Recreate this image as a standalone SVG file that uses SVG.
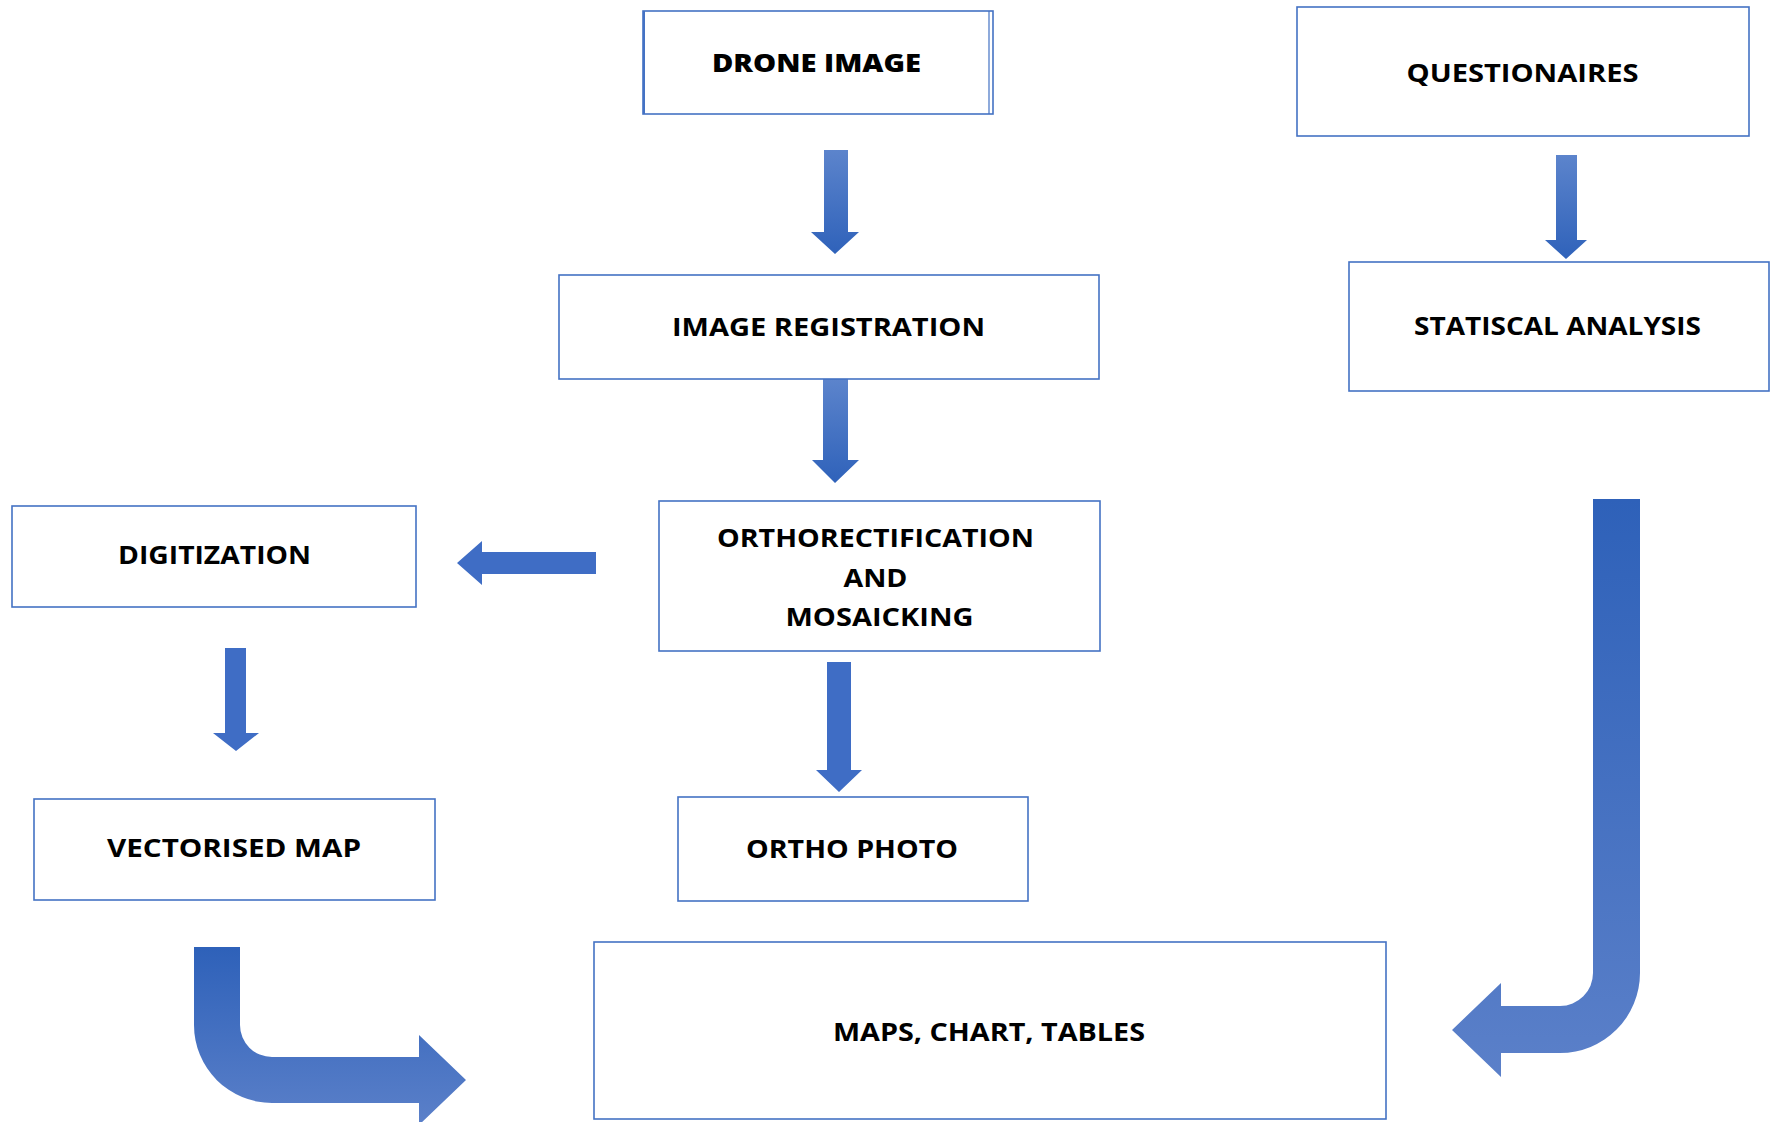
<svg xmlns="http://www.w3.org/2000/svg" width="1773" height="1122" viewBox="0 0 1773 1122">
<style>
.box{fill:#fff;stroke:#4472C4;stroke-width:1.6}
.lbl{font-family:"Open Sans","Liberation Sans",sans-serif;font-weight:700;font-size:25px;fill:#000;text-anchor:middle}
.heavy{font-weight:800}
.solid{fill:#3F6DC5}
</style>
<defs>
<linearGradient id="gDown" x1="0" y1="0" x2="0" y2="1">
<stop offset="0" stop-color="#5C84CC"/>
<stop offset="1" stop-color="#2F62BA"/>
</linearGradient>
<linearGradient id="gBend" x1="0" y1="0" x2="0" y2="1">
<stop offset="0" stop-color="#2E61B9"/>
<stop offset="1" stop-color="#5B80C9"/>
</linearGradient>
</defs>
<rect width="1773" height="1122" fill="#fff"/>

<g id="connectors">
<path id="a-drone-reg" fill="url(#gDown)" d="M824,150 H848 V232 H859 L835,254 L811,232 H824 Z"/>
<path id="a-reg-ortho" fill="url(#gDown)" d="M823,379 H848 V460 H859 L835,483 L812,460 H823 Z"/>
<path id="a-ortho-photo" class="solid" d="M827,662 H851 V770 H862 L839,792 L816,770 H827 Z"/>
<path id="a-quest-stat" fill="url(#gDown)" d="M1556,155 H1577 V240 H1587 L1566,259 L1545,240 H1556 Z"/>
<path id="a-ortho-digit" class="solid" d="M596,552 V574 H482 V585 L457,563 L482,541 V552 Z"/>
<path id="a-digit-vec" class="solid" d="M225,648 H246 V733 H259 L236,751 L213,733 H225 Z"/>
<path id="a-vec-maps" fill="url(#gBend)" d="M194,947 H240 V1025 A32,32 0 0 0 272,1057 H419 V1035 L466,1080 L419,1125 V1103 H272 A78,78 0 0 1 194,1025 Z"/>
<path id="a-stat-maps" fill="url(#gBend)" d="M1593,499 H1640 V973 A80,80 0 0 1 1560,1053 H1501 V1077 L1452,1030 L1501,983 V1006 H1560 A33,33 0 0 0 1593,973 Z"/>
</g>

<g id="drone">
<rect class="box" x="643" y="11" width="350" height="103"/>
<line x1="644" y1="11" x2="644" y2="114" stroke="#4472C4" stroke-width="2"/>
<line x1="989" y1="11" x2="989" y2="114" stroke="#4472C4" stroke-width="1.2"/>
<text class="lbl heavy" x="816.5" y="72" textLength="209" lengthAdjust="spacingAndGlyphs">DRONE IMAGE</text>
</g>

<g id="questionaires">
<rect class="box" x="1297" y="7" width="452" height="129"/>
<text class="lbl" x="1522.5" y="82" textLength="232" lengthAdjust="spacingAndGlyphs">QUESTIONAIRES</text>
</g>

<g id="statiscal">
<rect class="box" x="1349" y="262" width="420" height="129"/>
<text class="lbl" x="1557.5" y="335" textLength="287" lengthAdjust="spacingAndGlyphs">STATISCAL ANALYSIS</text>
</g>

<g id="registration">
<rect class="box" x="559" y="275" width="540" height="104"/>
<text class="lbl" x="828.5" y="336" textLength="313" lengthAdjust="spacingAndGlyphs">IMAGE REGISTRATION</text>
</g>

<g id="ortho">
<rect class="box" x="659" y="501" width="441" height="150"/>
<text class="lbl" x="875.5" y="547" textLength="317" lengthAdjust="spacingAndGlyphs">ORTHORECTIFICATION</text>
<text class="lbl" x="875.5" y="587" textLength="64" lengthAdjust="spacingAndGlyphs">AND</text>
<text class="lbl" x="879.5" y="626" textLength="188" lengthAdjust="spacingAndGlyphs">MOSAICKING</text>
</g>

<g id="digitization">
<rect class="box" x="12" y="506" width="404" height="101"/>
<text class="lbl" x="214.5" y="564" textLength="193" lengthAdjust="spacingAndGlyphs">DIGITIZATION</text>
</g>

<g id="vectorised">
<rect class="box" x="34" y="799" width="401" height="101"/>
<text class="lbl" x="234" y="857" textLength="254" lengthAdjust="spacingAndGlyphs">VECTORISED MAP</text>
</g>

<g id="orthophoto">
<rect class="box" x="678" y="797" width="350" height="104"/>
<text class="lbl" x="852" y="858" textLength="212" lengthAdjust="spacingAndGlyphs">ORTHO PHOTO</text>
</g>

<g id="maps">
<rect class="box" x="594" y="942" width="792" height="177"/>
<text class="lbl" x="989" y="1041" textLength="312" lengthAdjust="spacingAndGlyphs">MAPS, CHART, TABLES</text>
</g>
</svg>
